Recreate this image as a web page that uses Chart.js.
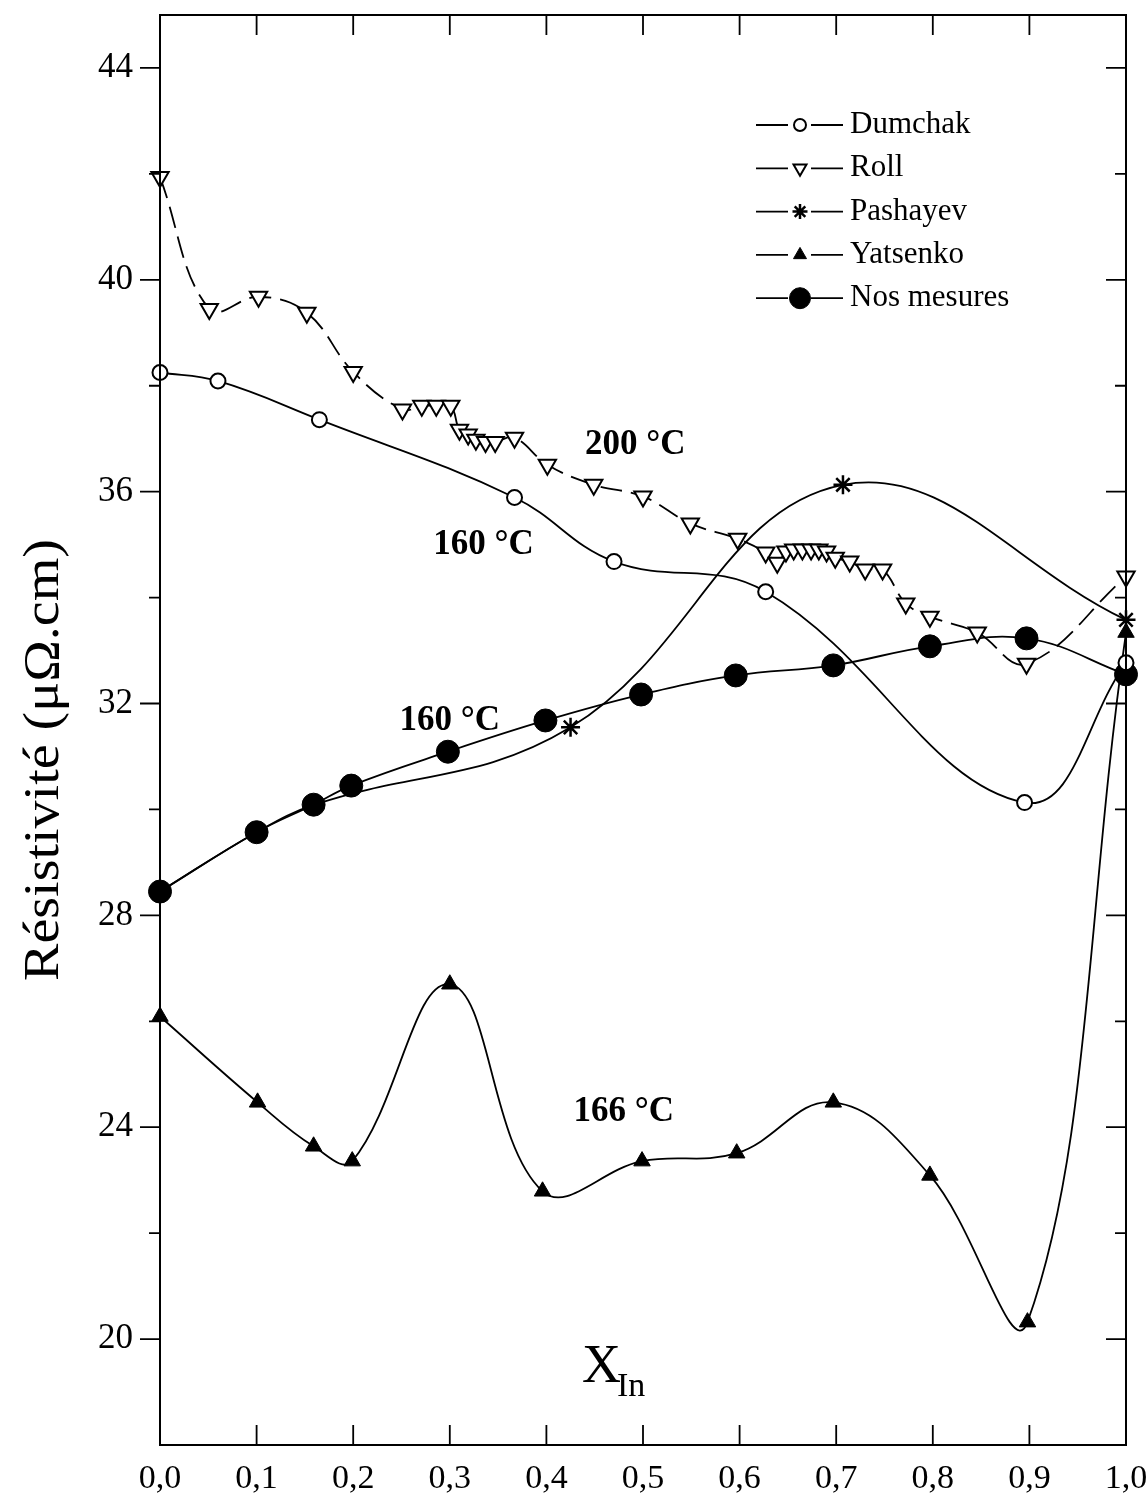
<!DOCTYPE html>
<html>
<head>
<meta charset="utf-8">
<script src="https://cdn.jsdelivr.net/npm/chart.js@4.4.1/dist/chart.umd.min.js"></script>
<style>
    html, body { margin: 0; padding: 0; background: #fff; }
    #wrap { width: 1146px; height: 1505px; position: relative; }
</style>
</head>
<body>
<div id="wrap"><canvas id="chart"></canvas></div>
<script>
// Résistivité vs fraction d'indium (X_In)
const dumchakX = [0.0, 0.06, 0.165, 0.367, 0.47, 0.627, 0.895, 1.0];
const dumchakY = [38.25, 38.09, 37.36, 35.89, 34.68, 34.11, 30.13, 32.77];

const rollX = [0.0, 0.051, 0.102, 0.152, 0.2, 0.251, 0.271, 0.286, 0.301, 0.31, 0.319, 0.327, 0.337, 0.347,
    0.367, 0.401, 0.449, 0.5, 0.549, 0.598, 0.627, 0.639, 0.648, 0.656, 0.665, 0.674, 0.682, 0.69, 0.699,
    0.714, 0.73, 0.748, 0.772, 0.797, 0.846, 0.897, 1.0];
const rollY = [41.94, 39.45, 39.68, 39.38, 38.26, 37.55, 37.62, 37.62, 37.62, 37.17, 37.08, 36.98, 36.94, 36.94,
    37.02, 36.51, 36.13, 35.91, 35.40, 35.11, 34.85, 34.66, 34.87, 34.91, 34.91, 34.91, 34.91, 34.87, 34.75,
    34.68, 34.53, 34.53, 33.89, 33.64, 33.34, 32.75, 34.40];

const pashayevX = [0.0, 0.1, 0.16, 0.425, 0.707, 1.0];
const pashayevY = [28.45, 29.57, 30.09, 31.55, 36.13, 33.58];

const yatsenkoX = [0.0, 0.101, 0.159, 0.199, 0.3, 0.396, 0.499, 0.597, 0.697, 0.797, 0.898, 1.0];
const yatsenkoY = [26.09, 24.47, 23.64, 23.36, 26.7, 22.79, 23.36, 23.51, 24.47, 23.09, 20.32, 33.34];

const nosX = [0.0, 0.1, 0.159, 0.198, 0.298, 0.399, 0.498, 0.596, 0.697, 0.797, 0.897, 1.0];
const nosY = [28.45, 29.57, 30.09, 30.45, 31.09, 31.68, 32.17, 32.53, 32.72, 33.08, 33.23, 32.55];

const seriesNames = ['Dumchak', 'Roll', 'Pashayev', 'Yatsenko', 'Nos mesures'];

const xTicks = [0.0, 0.1, 0.2, 0.3, 0.4, 0.5, 0.6, 0.7, 0.8, 0.9, 1.0];
const xTickLabels = ['0,0', '0,1', '0,2', '0,3', '0,4', '0,5', '0,6', '0,7', '0,8', '0,9', '1,0'];
const yMajor = [20, 24, 28, 32, 36, 40, 44];
const yMinor = [22, 26, 30, 34, 38, 42];

// textes dans le graphe (x, y en coordonnées des données)
const notes = [
    { text: '200 °C', x: 0.492, y: 36.89 },
    { text: '160 °C', x: 0.335, y: 35.0 },
    { text: '160 °C', x: 0.30, y: 31.68 },
    { text: '166 °C', x: 0.48, y: 24.28 }
];

const SERIF = "'Liberation Serif', 'Times New Roman', serif";

function pts(xs, ys) {
    return xs.map((x, i) => ({ x: x, y: ys[i] }));
}

const base = {
    borderColor: '#000',
    borderWidth: 1.8,
    tension: 0.4,
    clip: false,
    pointBorderColor: '#000',
    pointBorderWidth: 2
};

const datasets = [
    Object.assign({}, base, {
        label: seriesNames[0], data: pts(dumchakX, dumchakY),
        pointStyle: 'circle', pointRadius: 7.5, pointBackgroundColor: '#fff'
    }),
    Object.assign({}, base, {
        label: seriesNames[1], data: pts(rollX, rollY), borderDash: [22, 9],
        pointStyle: 'triangle', pointRotation: 180, pointRadius: 10, pointBackgroundColor: '#fff'
    }),
    Object.assign({}, base, {
        label: seriesNames[2], data: pts(pashayevX, pashayevY),
        pointStyle: 'star', pointRadius: 9.5, pointBorderWidth: 2.5, pointBackgroundColor: '#000'
    }),
    Object.assign({}, base, {
        label: seriesNames[3], data: pts(yatsenkoX, yatsenkoY),
        pointStyle: 'triangle', pointRadius: 9.5, pointBorderWidth: 1, pointBackgroundColor: '#000'
    }),
    Object.assign({}, base, {
        label: seriesNames[4], data: pts(nosX, nosY),
        pointStyle: 'circle', pointRadius: 11.5, pointBorderWidth: 1, pointBackgroundColor: '#000'
    })
];

const decor = {
    id: 'decor',
    afterDraw(chart) {
        const ctx = chart.ctx;
        const a = chart.chartArea;
        const xs = chart.scales.x;
        const ys = chart.scales.y;
        ctx.save();
        ctx.strokeStyle = '#000';
        ctx.fillStyle = '#000';

        // cadre
        ctx.lineWidth = 2;
        ctx.strokeRect(a.left, a.top, a.right - a.left, a.bottom - a.top);

        // graduations
        ctx.lineWidth = 1.8;
        ctx.beginPath();
        xTicks.forEach(v => {
            const px = xs.getPixelForValue(v);
            ctx.moveTo(px, a.bottom); ctx.lineTo(px, a.bottom - 20);
            ctx.moveTo(px, a.top); ctx.lineTo(px, a.top + 20);
        });
        yMajor.forEach(v => {
            const py = ys.getPixelForValue(v);
            ctx.moveTo(a.left - 20, py); ctx.lineTo(a.left, py);
            ctx.moveTo(a.right, py); ctx.lineTo(a.right - 20, py);
        });
        yMinor.forEach(v => {
            const py = ys.getPixelForValue(v);
            ctx.moveTo(a.left - 11, py); ctx.lineTo(a.left, py);
            ctx.moveTo(a.right, py); ctx.lineTo(a.right - 11, py);
        });
        ctx.stroke();

        // températures
        ctx.font = 'bold 35px ' + SERIF;
        ctx.textAlign = 'center';
        ctx.textBaseline = 'middle';
        notes.forEach(n => {
            ctx.fillText(n.text, xs.getPixelForValue(n.x), ys.getPixelForValue(n.y));
        });

        // titre axe Y (un peu étiré comme sur l'original)
        ctx.save();
        ctx.translate(45, 760);
        ctx.rotate(-Math.PI / 2);
        ctx.scale(1.12, 1);
        ctx.font = '50px ' + SERIF;
        ctx.fillText('Résistivité (μΩ.cm)', 0, 0);
        ctx.restore();

        // titre axe X (dans le graphe)
        ctx.textAlign = 'left';
        ctx.textBaseline = 'alphabetic';
        ctx.font = '54px ' + SERIF;
        ctx.fillText('X', 582, 1382);
        const wX = ctx.measureText('X').width;
        ctx.font = '34px ' + SERIF;
        ctx.fillText('In', 582 + wX - 4, 1396);

        // légende
        ctx.font = '31px ' + SERIF;
        ctx.textBaseline = 'middle';
        chart.data.datasets.forEach((ds, i) => {
            const ly = 125 + i * 43.3;
            ctx.lineWidth = 1.8;
            ctx.setLineDash([]);
            ctx.beginPath();
            ctx.moveTo(756, ly); ctx.lineTo(788, ly);
            ctx.moveTo(811, ly); ctx.lineTo(843, ly);
            ctx.stroke();
            ctx.fillStyle = ds.pointBackgroundColor;
            ctx.lineWidth = ds.pointBorderWidth;
            Chart.helpers.drawPoint(ctx, {
                pointStyle: ds.pointStyle,
                rotation: ds.pointRotation || 0,
                radius: ds.pointStyle === 'circle' && ds.pointRadius < 10 ? 6 : (ds.pointRadius > 10 ? 10.5 : 7.5),
                borderWidth: ds.pointBorderWidth
            }, 800, ly);
            ctx.fillStyle = '#000';
            ctx.fillText(ds.label, 850, ly);
        });
        ctx.restore();
    }
};

new Chart(document.getElementById('chart'), {
    type: 'line',
    data: { datasets: datasets },
    options: {
        responsive: true,
        maintainAspectRatio: false,
        animation: false,
        events: [],
        layout: { padding: { top: 15, right: 20, left: 0, bottom: 0 } },
        plugins: { legend: { display: false }, tooltip: { enabled: false } },
        scales: {
            x: {
                type: 'linear',
                min: 0, max: 1,
                grid: { display: false, drawTicks: false },
                border: { display: false },
                afterBuildTicks: s => { s.ticks = xTicks.map(v => ({ value: v })); },
                afterFit: s => { s.height = 60; s.paddingLeft = 0; s.paddingRight = 0; },
                ticks: {
                    maxRotation: 0,
                    autoSkip: false,
                    padding: 14,
                    color: '#000',
                    font: { family: SERIF, size: 34 },
                    callback: v => xTickLabels[xTicks.indexOf(v)]
                }
            },
            y: {
                type: 'linear',
                min: 18, max: 45,
                grid: { display: false, drawTicks: false },
                border: { display: false },
                afterBuildTicks: s => { s.ticks = yMajor.map(v => ({ value: v })); },
                afterFit: s => { s.width = 160; s.paddingTop = 0; s.paddingBottom = 0; },
                ticks: {
                    padding: 27,
                    color: '#000',
                    font: { family: SERIF, size: 35 },
                    callback: v => String(v)
                }
            }
        }
    },
    plugins: [decor]
});
</script>
</body>
</html>
